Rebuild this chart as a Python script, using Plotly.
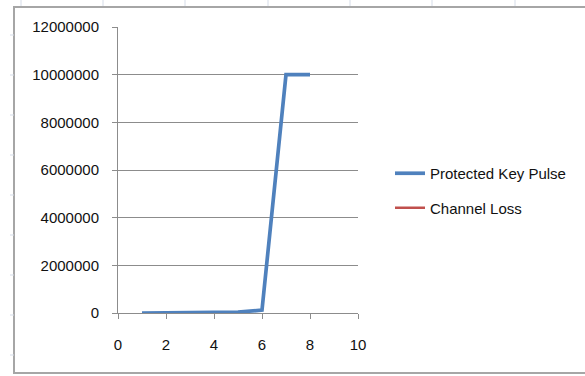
import plotly.graph_objects as go

# Series data
x_vals = [1, 2, 3, 4, 5, 6, 7, 8]
protected_key_pulse = [1000, 5000, 10000, 20000, 40000, 120000, 10000000, 10000000]
channel_loss = [None, None, None, None, None, None, None, None]

x_ticks = [0, 2, 4, 6, 8, 10]
y_ticks = [0, 2000000, 4000000, 6000000, 8000000, 10000000, 12000000]

W, H = 585, 376
L, R, T, B = 118, 358, 27, 313  # plot area edges in pixels
pw, ph = R - L, B - T

def px(xp):
    return (xp - L) / pw

def py(yp):
    return (B - yp) / ph

FONT = "Liberation Sans"
GRID = "#8c8c8c"
TEXT = "#111111"

fig = go.Figure()
fig.add_trace(go.Scatter(
    x=x_vals, y=protected_key_pulse, mode="lines", name="Protected Key Pulse",
    line=dict(color="#4F81BD", width=3.7), legendgroup="a",
))
fig.add_trace(go.Scatter(
    x=x_vals, y=channel_loss, mode="lines", name="Channel Loss",
    line=dict(color="#C0504D", width=2.5), legendgroup="b",
))

shapes = []
# chart-area border
shapes.append(dict(type="rect", xref="paper", yref="paper",
                   x0=px(14), x1=px(600), y0=py(373), y1=py(7),
                   line=dict(color="#a6a6a6", width=2), fillcolor="rgba(0,0,0,0)", layer="below"))
# faint sheet-grid marks around the chart
for xm in [21, 103, 185, 268, 350, 432, 515]:
    shapes.append(dict(type="line", xref="paper", yref="paper",
                       x0=px(xm), x1=px(xm), y0=py(0), y1=py(6),
                       line=dict(color="#d5dce8", width=1)))
for ym in [35, 75, 115, 155, 195, 235, 275, 315, 355]:
    shapes.append(dict(type="line", xref="paper", yref="paper",
                       x0=px(10), x1=px(14), y0=py(ym), y1=py(ym),
                       line=dict(color="#d5dce8", width=1)))

fig.update_layout(
    width=W, height=H,
    margin=dict(l=L, r=W - R, t=T, b=H - B),
    paper_bgcolor="white", plot_bgcolor="white",
    font=dict(family=FONT, size=15, color=TEXT),
    showlegend=True,
    legend=dict(x=px(390), y=py(157), xanchor="left", yanchor="top",
                font=dict(family=FONT, size=15, color=TEXT),
                tracegroupgap=12, bgcolor="rgba(0,0,0,0)"),
    xaxis=dict(range=[0, 10], tickvals=x_ticks, showgrid=False,
               showline=True, linecolor=GRID, linewidth=1,
               ticks="outside", ticklen=5, tickcolor=GRID,
               ticklabelstandoff=13, zeroline=False, fixedrange=True),
    yaxis=dict(range=[0, 12000000], tickvals=y_ticks, tickformat="d",
               showgrid=True, gridcolor=GRID, gridwidth=1,
               showline=True, linecolor=GRID, linewidth=1,
               ticks="outside", ticklen=5, tickcolor=GRID,
               ticklabelstandoff=10, zeroline=False, fixedrange=True),
    shapes=shapes,
)

fig.write_html("out.html")
